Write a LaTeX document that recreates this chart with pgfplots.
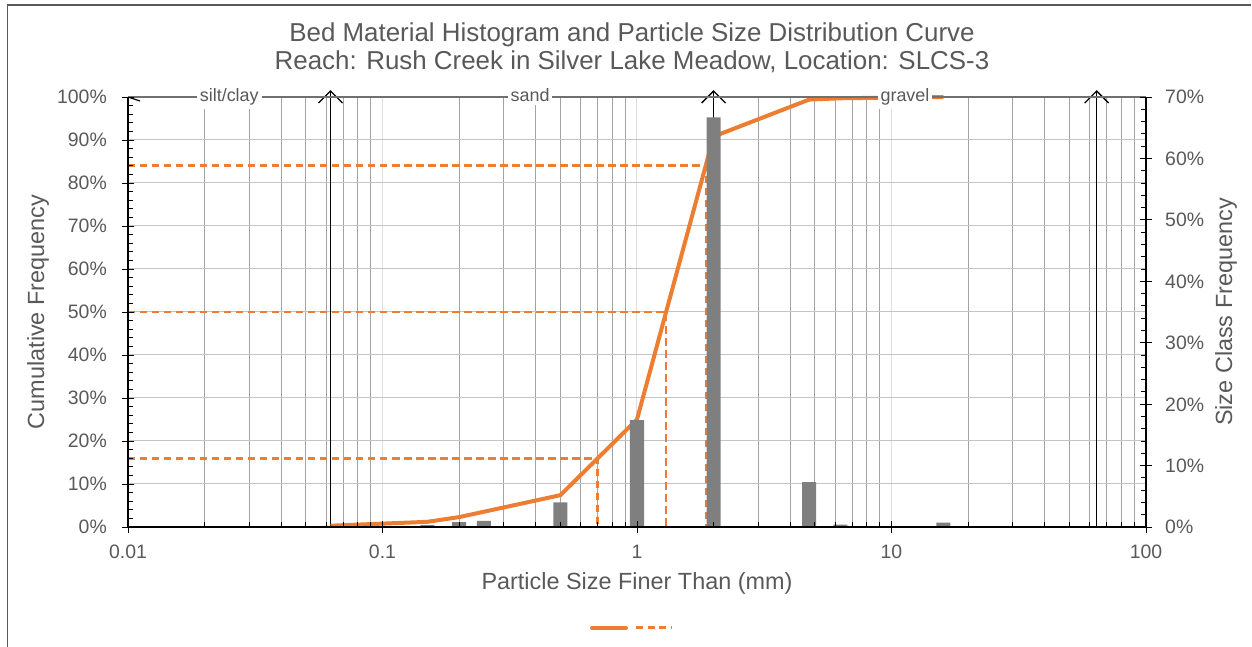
\documentclass[border=0pt]{standalone}
\usepackage{pgfplots}
\pgfplotsset{compat=1.18}
\usepackage{fontspec}
\setmainfont{Liberation Sans}
\usetikzlibrary{arrows.meta}

\definecolor{txt}{HTML}{595959}
\definecolor{org}{HTML}{ED7D31}
\definecolor{barc}{HTML}{7F7F7F}
\definecolor{gmin}{HTML}{A3A3A3}
\definecolor{gmaj}{HTML}{DEDEDE}
\definecolor{hgrid}{HTML}{C4C4C4}
\definecolor{topl}{HTML}{707070}

\begin{document}
\begin{tikzpicture}[x=1bp,y=1bp]
\path[use as bounding box] (0,0) rectangle (1252,647);
\draw[txt, line width=1.2bp] (7.5,0) -- (7.5,642) -- (1251,642);

% titles
\node[anchor=base, text=txt, font=\fontsize{26}{30}\selectfont] at (632,605) {Bed Material Histogram and Particle Size Distribution Curve};
\node[anchor=base, text=txt, font=\fontsize{26}{30}\selectfont] at (632,577) {Reach: Rush Creek in Silver Lake Meadow, Location: SLCS-3};
\node[anchor=base, text=txt, font=\fontsize{23.5}{28}\selectfont] at (637,57) {Particle Size Finer Than (mm)};
\node[rotate=90, text=txt, font=\fontsize{23.5}{28}\selectfont] at (38,335) {Cumulative Frequency};
\node[rotate=90, text=txt, font=\fontsize{23.5}{28}\selectfont] at (1226,335) {Size Class Frequency};

% legend
\draw[org, line width=4bp, line cap=round] (592,19) -- (626,19);
\draw[org, line width=3bp, dash pattern=on 7bp off 4.5bp] (636,19) -- (672,19);

% ---------- primary axis: grid, labels, cumulative curve ----------
\begin{axis}[
  scale only axis, width=1018bp, height=430bp,
  at={(128bp,120bp)}, anchor=south west,
  xmode=log, log basis x=10, xmin=0.01, xmax=100,
  /pgf/number format/assume math mode=true,
  tick style={draw=none},
  axis line style={black, line width=1.2bp, -},
  tick label style={text=txt, font=\fontsize{19.5}{22}\selectfont, inner sep=0pt},
  ymin=0, ymax=100, clip=false,
  axis x line*=bottom, axis y line*=left,
  xtick={0.01,0.1,1,10,100}, xticklabels={0.01,0.1,1,10,100},
  minor xtick={0.02,0.03,0.04,0.05,0.06,0.07,0.08,0.09,0.2,0.3,0.4,0.5,0.6,0.7,0.8,0.9,2,3,4,5,6,7,8,9,20,30,40,50,60,70,80,90},
  xticklabel style={anchor=base, yshift=-32bp},
  ytick={0,10,...,100},
  yticklabel={\pgfmathprintnumber{\tick}\%},
  yticklabel style={anchor=base east, xshift=-21bp, yshift=-7bp},
  xmajorgrids, xminorgrids, ymajorgrids,
  major x grid style={gmaj, line width=1bp},
  minor x grid style={gmin, line width=1bp},
  major y grid style={hgrid, line width=1bp},
]
% size class boundaries
\draw[black, line width=1.3bp, -{Straight Barb[length=12bp, width=24bp]}] (axis cs:0.0625,0) -- (axis cs:0.0625,101.6);
\draw[black, line width=1.3bp, -{Straight Barb[length=12bp, width=24bp]}] (axis cs:2,0) -- (axis cs:2,101.6);
\draw[black, line width=1.3bp, -{Straight Barb[length=12bp, width=24bp]}] (axis cs:64,0) -- (axis cs:64,101.6);
\draw[black, line width=1.2bp] (axis cs:0.01,100) -- (axis cs:0.01115,99.07);

% D16, D50, D84
\addplot[org, line width=2.8bp, dash pattern=on 7.5bp off 4.5bp] coordinates {(0.01,16) (0.70,16) (0.70,0)};
\addplot[org, line width=2.8bp, dash pattern=on 7.5bp off 4.5bp] coordinates {(0.01,50) (1.30,50) (1.30,0)};
\addplot[org, line width=2.8bp, dash pattern=on 7.5bp off 4.5bp] coordinates {(0.01,84) (1.87,84) (1.87,0)};

% cumulative curve
\addplot[org, line width=4bp, line join=round] coordinates {
(0.0625,0.3) (0.15,1.2) (0.2,2.3) (0.5,7.4) (1,25) (2,90.8) (4.75,99.4) (6.3,99.7) (16,100)};

% top class line and labels
\draw[topl, line width=1.5bp] (axis cs:0.01,100) -- (axis cs:100,100);
\node[anchor=base, yshift=-5bp, fill=white, inner sep=3bp, text=txt, font=\fontsize{18}{20}\selectfont] at (axis cs:0.025,100) {silt/clay};
\node[anchor=base, yshift=-5bp, fill=white, inner sep=3bp, text=txt, font=\fontsize{18}{20}\selectfont] at (axis cs:0.38,100) {sand};
\node[anchor=base, yshift=-5bp, fill=white, inner sep=3bp, text=txt, font=\fontsize{18}{20}\selectfont] at (axis cs:11.3,100) {gravel};
\end{axis}

% ---------- secondary axis: histogram and right scale ----------
\begin{axis}[
  scale only axis, width=1018bp, height=430bp,
  at={(128bp,120bp)}, anchor=south west,
  xmode=log, log basis x=10, xmin=0.01, xmax=100,
  /pgf/number format/assume math mode=true,
  tick align=inside,
  major tick length=12bp, minor tick length=5bp,
  tick style={black, line width=0.9bp},
  major tick style={xshift=6bp},
  axis line style={black, line width=1.2bp, -},
  tick label style={text=txt, font=\fontsize{19.5}{22}\selectfont, inner sep=0pt},
  ymin=0, ymax=70,
  axis x line=none, axis y line*=right,
  ytick={0,10,...,70}, minor y tick num=4,
  yticklabel={\pgfmathprintnumber{\tick}\%},
  yticklabel style={anchor=base west, xshift=19bp, yshift=-7bp},
  ybar, bar width=14bp,
]
\addplot[fill=barc, draw=none] coordinates {
(0.0625,0.2) (0.15,0.3) (0.2,0.8) (0.25,1.0) (0.5,4.0) (1,17.4) (2,66.7) (4.75,7.3) (6.3,0.4) (16,0.7)};
\end{axis}

% ---------- ticks of the x axis ----------
\begin{axis}[
  scale only axis, width=1018bp, height=430bp,
  at={(128bp,120bp)}, anchor=south west,
  xmode=log, log basis x=10, xmin=0.01, xmax=100, ymin=0, ymax=100,
  tick align=inside,
  major tick length=12bp, minor tick length=5bp,
  tick style={black, line width=0.9bp},
  major tick style={yshift=-6bp},
  axis line style={black, line width=1.2bp, -},
  axis x line*=bottom, axis y line=none,
  xtick={0.01,0.1,1,10,100}, xticklabels={},
  minor xtick={0.02,0.03,0.04,0.05,0.06,0.07,0.08,0.09,0.2,0.3,0.4,0.5,0.6,0.7,0.8,0.9,2,3,4,5,6,7,8,9,20,30,40,50,60,70,80,90},
]
\end{axis}

% ---------- ticks of the left y axis ----------
\begin{axis}[
  scale only axis, width=1018bp, height=430bp,
  at={(128bp,120bp)}, anchor=south west,
  xmin=0, xmax=1, ymin=0, ymax=100,
  tick align=inside,
  major tick length=12bp, minor tick length=5bp,
  tick style={black, line width=0.9bp},
  major tick style={xshift=-6bp},
  axis line style={black, line width=1.2bp, -},
  axis x line=none, axis y line*=left,
  ytick={0,10,...,100}, minor y tick num=4, yticklabels={},
]
\end{axis}
\end{tikzpicture}
\end{document}
